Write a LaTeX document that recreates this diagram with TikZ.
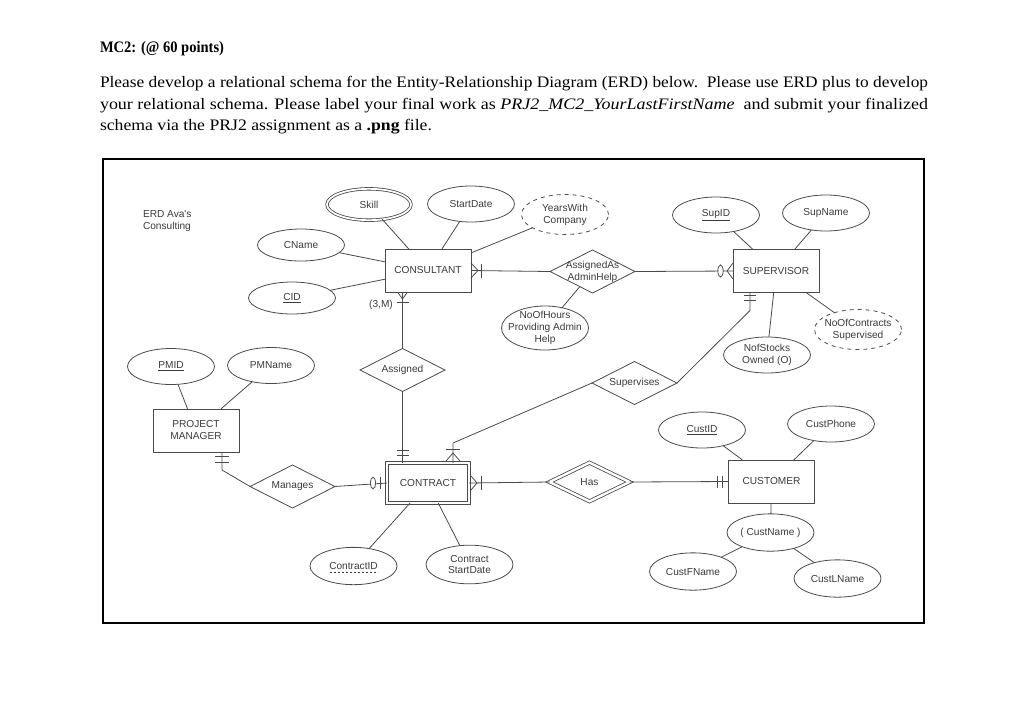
\documentclass[tikz,border=0pt]{standalone}
\usepackage{fontspec}
\usepackage{graphicx}
\setmainfont{Liberation Serif}
\newfontfamily\diagfont{Liberation Sans}
\usetikzlibrary{shapes.geometric,calc}
\definecolor{ln}{HTML}{4A4A4A}
\definecolor{tx}{HTML}{3A3A3A}
\begin{document}
\begin{tikzpicture}[x=0.75pt,y=-0.75pt,
  every node/.style={inner sep=0pt,outer sep=0pt},
  lbl/.style={font=\diagfont\fontsize{7.6}{9}\selectfont,text=tx,align=center},
  every label/.style={lbl},
  ent/.style={rectangle,draw=ln,line width=0.75pt,minimum width=64.5pt,minimum height=32.25pt},
  attr/.style={ellipse,draw=ln,line width=0.6pt,minimum width=65.25pt,minimum height=27pt},
  rel/.style={diamond,draw=ln,line width=0.6pt,minimum width=63.75pt,minimum height=32.25pt},
  conn/.style={draw=ln,line width=0.6pt},
  body/.style={anchor=base west,font=\fontsize{12}{14}\selectfont}
]
\useasboundingbox (0,0) rectangle (1024,722);

% ---------- header text ----------
\node[body,font=\bfseries\fontsize{12}{14}\selectfont] (title) at (100,52) {\resizebox{93pt}{\height}{MC2: (@ 60 points)}};
\node[body] (l1) at (100,87) {\resizebox{621pt}{\height}{Please develop a relational schema for the Entity-Relationship Diagram (ERD) below.\ \ Please use ERD plus to develop}};
\node[body] (l2) at (100,109) {\resizebox{621pt}{\height}{your relational schema. Please label your final work as \textit{PRJ2\_MC2\_YourLastFirstName}\ \ and submit your finalized}};
\node[body] (l3) at (100,130) {\resizebox{249pt}{\height}{schema via the PRJ2 assignment as a \textbf{.png} file.}};

% ---------- frame ----------
\draw[line width=1.5pt] (103,159) rectangle (924,623);

\node[lbl,anchor=north west,align=left] (erdtitle) at (143,211) {ERD Ava's\\Consulting};

% ---------- entities ----------
\node[ent,label=center:{CONSULTANT}] (cons) at (428,270.5) {};
\node[ent,label=center:{SUPERVISOR}] (sup) at (776,271) {};
\node[ent,label=center:{PROJECT\\MANAGER}] (pm) at (196,430.5) {};
\node[ent,double,double distance=1.5pt,minimum width=61.5pt,minimum height=30pt,label=center:{CONTRACT}] (contract) at (428,483) {};
\node[ent,label=center:{CUSTOMER}] (cust) at (771.5,481.5) {};

% ---------- attributes ----------
\node[attr,double,double distance=1.3pt,minimum width=63pt,minimum height=23.5pt,label=center:{Skill}] (skill) at (369,204.5) {};
\node[attr,label=center:{StartDate}] (startdate) at (471,204) {};
\node[attr,dashed,minimum height=30pt,label=center:{YearsWith\\Company}] (years) at (565,214.5) {};
\node[attr,minimum height=24pt,label=center:{CName}] (cname) at (301,245) {};
\node[attr,minimum height=24pt,label=center:{\underline{CID}}] (cid) at (292,298) {};
\node[attr,label=center:{\underline{SupID}}] (supid) at (716,215) {};
\node[attr,label=center:{SupName}] (supname) at (826,213) {};
\node[attr,minimum height=33pt,label=center:{NoOfHours\\Providing Admin\\Help}] (hours) at (545,328) {};
\node[attr,label=center:{NofStocks\\Owned (O)}] (stocks) at (767,355) {};
\node[attr,dashed,minimum height=30pt,label=center:{NoOfContracts\\Supervised}] (ncontracts) at (858,329.5) {};
\node[attr,label=center:{\underline{PMID}}] (pmid) at (171,366.5) {};
\node[attr,label=center:{PMName}] (pmname) at (271,365.5) {};
\node[attr,label=center:{\underline{CustID}}] (custid) at (702,430) {};
\node[attr,label=center:{CustPhone}] (custphone) at (831,424) {};
\node[attr,minimum height=28pt,label=center:{( CustName )}] (custname) at (770.5,532.5) {};
\node[attr,minimum height=28pt,label=center:{CustFName}] (custfname) at (693,571.5) {};
\node[attr,minimum height=28pt,label=center:{CustLName}] (custlname) at (837.5,578.5) {};
\node[attr,minimum height=28pt,label=center:{ContractID}] (contractid) at (353.5,566) {};
\draw[draw=tx,line width=0.5pt,dash pattern=on 2pt off 1pt] ($(contractid.center)+(-24,6.5)$) -- ($(contractid.center)+(24,6.5)$);
\node[attr,minimum height=29pt,label=center:{Contract\\StartDate}] (cstart) at (469.5,564.5) {};

% ---------- relationships ----------
\node[rel,label=center:{Assigned}] (assigned) at (402.5,370) {};
\node[rel,label=center:{AssignedAs\\AdminHelp}] (adminhelp) at (592.5,271.5) {};
\node[rel,label=center:{Supervises}] (supervises) at (634.5,383) {};
\node[rel,label=center:{Manages}] (manages) at (292.5,486.5) {};
\node[rel,double,double distance=1.8pt,minimum width=60pt,minimum height=29pt,label=center:{Has}] (has) at (589.5,482) {};

\node[lbl] (card) at (381,305) {(3,M)};

% ---------- attribute links ----------
\foreach \a/\b in {skill/cons,startdate/cons,years/cons,cname/cons,cid/cons,
                   supid/sup,supname/sup,stocks/sup,ncontracts/sup,
                   hours/adminhelp,pmid/pm,pmname/pm,custid/cust,custphone/cust,
                   custname/cust,custfname/custname,custlname/custname,
                   contractid/contract,cstart/contract}
  \draw[conn] (\a) -- (\b);

% ---------- attach points ----------
\coordinate (pC1) at (assigned.north |- cons.south);
\coordinate (pK1) at (assigned.south |- contract.north);
\coordinate (pK2) at ($(contract.north)+(25,0)$);
\coordinate (pS) at ($(sup.south west)+(17,0)$);
\coordinate (pP) at ($(pm.south west)+(69,0)$);

% ---------- relationship links ----------
\draw[conn] (pC1) -- (assigned.north);
\draw[conn] (assigned.south) -- (pK1);
\draw[conn] (supervises.west) -- ($(pK2)+(0,-20)$) -- (pK2);
\draw[conn] (pS) -- ($(pS)+(0,18)$) -- (supervises.east);
\draw[conn] (cons.east) -- (adminhelp.west);
\draw[conn] (adminhelp.east) -- (sup.west);
\draw[conn] (pP) -- ($(pP)+(0,18)$) -- (manages.west);
\draw[conn] (manages.east) -- (contract.west);
\draw[conn] (contract.east) -- (has.west);
\draw[conn] (has.east) -- (cust.west);

% ---------- cardinality marks ----------
\draw[conn] ($(pC1)+(-5,0)$) -- ($(pC1)+(0,7)$) -- ($(pC1)+(5,0)$);
\draw[conn] ($(pC1)+(-6,10)$) -- ($(pC1)+(6,10)$);
\draw[conn] ($(pK1)+(-6,-13)$) -- ($(pK1)+(6,-13)$);
\draw[conn] ($(pK1)+(-6,-8)$) -- ($(pK1)+(6,-8)$);
\draw[conn] ($(pK2)+(-7,-2)$) -- ($(pK2)+(0,-10)$) -- ($(pK2)+(7,-2)$);
\draw[conn] ($(pK2)+(-7,-14)$) -- ($(pK2)+(7,-14)$);
\draw[conn] ($(contract.west)+(-7,-6)$) -- ($(contract.west)+(-7,6)$);
\draw[conn,fill=white] ($(contract.west)+(-14,0)$) ellipse [x radius=2pt,y radius=4.3pt];
\draw[conn] ($(contract.east)+(2,-7)$) -- ($(contract.east)+(8,0)$) -- ($(contract.east)+(2,7)$);
\draw[conn] ($(contract.east)+(12,-7)$) -- ($(contract.east)+(12,7)$);
\draw[conn] ($(cust.west)+(-11,-6)$) -- ($(cust.west)+(-11,6)$);
\draw[conn] ($(cust.west)+(-6,-6)$) -- ($(cust.west)+(-6,6)$);
\draw[conn] ($(cons.east)+(0,-7.5)$) -- ($(cons.east)+(7,0)$) -- ($(cons.east)+(0,7.5)$);
\draw[conn] ($(cons.east)+(10,-7)$) -- ($(cons.east)+(10,7)$);
\draw[conn] ($(sup.west)+(0,-8)$) -- ($(sup.west)+(-6,0)$) -- ($(sup.west)+(0,8)$);
\draw[conn,fill=white] ($(sup.west)+(-12.5,0)$) ellipse [x radius=2pt,y radius=4.5pt];
\draw[conn] ($(pS)+(-6,3)$) -- ($(pS)+(6,3)$);
\draw[conn] ($(pS)+(-6,8)$) -- ($(pS)+(6,8)$);
\draw[conn] ($(pP)+(-7,4)$) -- ($(pP)+(7,4)$);
\draw[conn] ($(pP)+(-7,10)$) -- ($(pP)+(7,10)$);
\end{tikzpicture}
\end{document}
